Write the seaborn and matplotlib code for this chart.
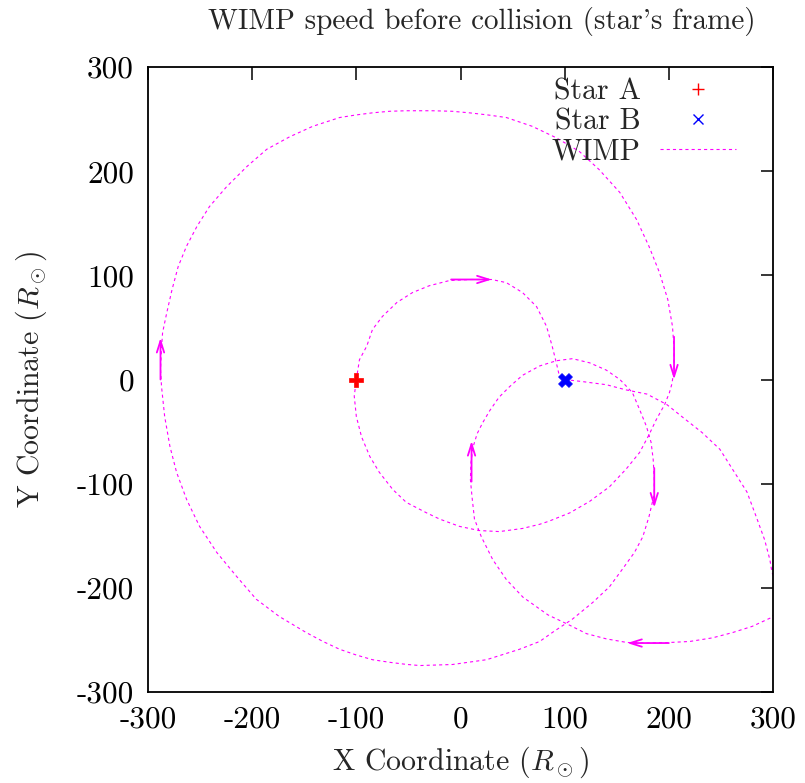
import matplotlib
matplotlib.use("Agg")
import matplotlib.pyplot as plt
from matplotlib.lines import Line2D
import seaborn as sns
import pandas as pd

# ---- data ----
star_a_x = [-100]
star_a_y = [0]
star_b_x = [100]
star_b_y = [0]

wimp_x = [100, 117, 140, 159, 179, 198, 213, 232, 249, 261, 275, 284, 292, 297, 299, 305, 307, 304, 298.5,
          280, 261, 242, 220, 200, 180, 160, 140, 121, 103, 84, 60, 44, 31, 20, 13.4, 11, 9.5, 10, 12, 16, 21,
          28, 37, 47, 59.5, 76, 92, 107.5, 124, 140, 153, 165, 172, 178.5, 183, 185, 186, 186, 181, 175, 167,
          155.5, 143, 127, 107.5, 88, 76, 56.6, 25, -7.7, -39, -52, -68, -84.5, -100, -116, -132, -148, -174,
          -196, -215, -234,
          -250.5, -263, -272.6, -279, -284, -287, -288, -287, -286, -282, -277, -271, -263, -253, -241, -224.6,
          -205, -186, -164, -142, -116, -100, -84.5, -68, -52, -27, -8, 8.6, 26, 44, 69, 92, 114, 133, 153, 169,
          181, 191, 199,
          203.5, 205, 205, 203, 200.6, 196, 188, 181, 172, 159, 143, 124, 105, 85, 76, 59.5, 37.4, 18, -1, -20,
          -32.6, -52, -65, -78, -87, -95, -100, -102, -100, -97, -90, -84.5, -75, -61, -46, -30, -10.6, 10, 30,
          44, 59.5, 73, 82.6, 88, 92, 95, 99]
wimp_y = [0, -2, -5, -10, -14, -24, -36, -51, -67, -86, -108, -132, -154, -173, -185, -200, -212, -222, -228.5,
          -237, -243, -248, -251.5, -252.5, -253, -252.5, -249, -244, -235, -226, -209, -192, -173, -151, -134,
          -112, -96, -80, -65, -52, -42, -30, -17, -7, 4, 13, 18, 20, 16, 9, 0, -12.5, -29, -45, -60.5, -77,
          -95, -110, -131.5, -151, -166, -182, -199, -214, -230, -243, -251.5, -259, -269, -273.6, -274.6, -273.5,
          -271.5, -269, -264.5, -259, -251.5, -243, -227.5, -211, -189, -166, -141, -115, -89, -64, -35.5, -7, 10,
          30, 45, 64, 86, 108.5,
          128, 147, 166, 185, 204.5, 221, 233, 243, 251.5, 254, 256, 257.5, 258, 258, 257.5, 256, 254, 251.5, 243,
          232, 219, 201.6,
          179.5, 153.6, 127.7, 102.7, 76.8, 51, 30, 10, -4, -12.5, -24, -38.4, -53, -70, -86, -103, -117, -128,
          -136, -139, -143, -146, -145, -141, -134, -128, -118, -105.6, -89, -74, -55, -35.5, -16, 0, 19, 32, 48,
          60.5, 74, 83.5, 90, 95, 96, 96, 93, 83.5, 70, 51, 32, 16, 3, 0]

# direction arrows: start and end
arrow_start_x = [-288, -9, 205, 10.6, 186, 200]
arrow_start_y = [0, 96, 41, -98, -85, -253]
arrow_end_x = [-288, 30, 205, 10.6, 186, 160]
arrow_end_y = [40, 96, 0, -59, -123, -253]

ticks = [-300, -200, -100, 0, 100, 200, 300]
tick_labels = ["-300", "-200", "-100", "0", "100", "200", "300"]

title = "WIMP speed before collision (star's frame)"
xlabel = r"X Coordinate ($R_\odot$)"
ylabel = r"Y Coordinate ($R_\odot$)"
legend_labels = ["Star A", "Star B", "WIMP"]

# ---- style ----
sns.set_theme(style="white")
plt.rcParams["font.family"] = ["cmr10", "DejaVu Serif"]
plt.rcParams["mathtext.fontset"] = "cm"
plt.rcParams["axes.formatter.use_mathtext"] = True
FS = 21.5
TFS = 22.5

MAG = "#ff00ff"
fig = plt.figure(figsize=(8.05, 7.83), dpi=100)
ax = fig.add_axes([148 / 805, 1 - 692 / 783, 625 / 805, 625 / 783])

df = pd.DataFrame({"x": wimp_x, "y": wimp_y})
sns.lineplot(data=df, x="x", y="y", sort=False, estimator=None, ax=ax,
             color=MAG, lw=0.8, dashes=False, legend=False)
ax.lines[-1].set_dashes((2.8, 2.8))
ax.lines[-1].set_solid_joinstyle("round")

for sx, sy, ex, ey in zip(arrow_start_x, arrow_start_y, arrow_end_x, arrow_end_y):
    ax.annotate("", xy=(ex, ey), xytext=(sx, sy),
                arrowprops=dict(arrowstyle="->,head_length=0.7,head_width=0.22",
                                color=MAG, lw=1.3, shrinkA=0, shrinkB=0))

sns.scatterplot(x=star_a_x, y=star_a_y, marker="P", s=100, color="#ff0000",
                edgecolor="#ff0000", linewidth=0.5, ax=ax, legend=False, zorder=5)
sns.scatterplot(x=star_b_x, y=star_b_y, marker="X", s=100, color="#0000ff",
                edgecolor="#0000ff", linewidth=0.5, ax=ax, legend=False, zorder=5)

ax.set_xlim(-300, 300)
ax.set_ylim(-300, 300)
ax.set_xticks(ticks)
ax.set_xticklabels(tick_labels)
ax.set_yticks(ticks)
ax.set_yticklabels(tick_labels)
ax.tick_params(direction="in", length=9, width=1.1, top=True, right=True,
               labelsize=TFS, pad=10, colors="black")
for sp in ax.spines.values():
    sp.set_linewidth(1.3)
    sp.set_color("black")
ax.set_xlabel(xlabel, fontsize=FS, labelpad=8)
ax.set_ylabel(ylabel, fontsize=FS, labelpad=20)
fig.text(482 / 805, 1 - 21 / 783, title, fontsize=21, ha="center", va="center")

handles = [
    Line2D([], [], ls="none", marker="+", color="#ff0000", markersize=8, mew=1.0),
    Line2D([], [], ls="none", marker="x", color="#0000ff", markersize=6.5, mew=1.0),
    Line2D([], [], color=MAG, lw=0.8, dashes=(2.8, 2.8)),
]
leg = ax.legend(handles, legend_labels, loc="upper right", bbox_to_anchor=(736 / 805, 1 - 78 / 783),
                bbox_transform=fig.transFigure, frameon=False, markerfirst=False,
                fontsize=FS, handlelength=2.55, handletextpad=0.64, labelspacing=0.085,
                borderpad=0, borderaxespad=0)
for t in leg.get_texts():
    t.set_ha("right")
leg._legend_box.align = "right"

fig.savefig("out.png", dpi=100)
